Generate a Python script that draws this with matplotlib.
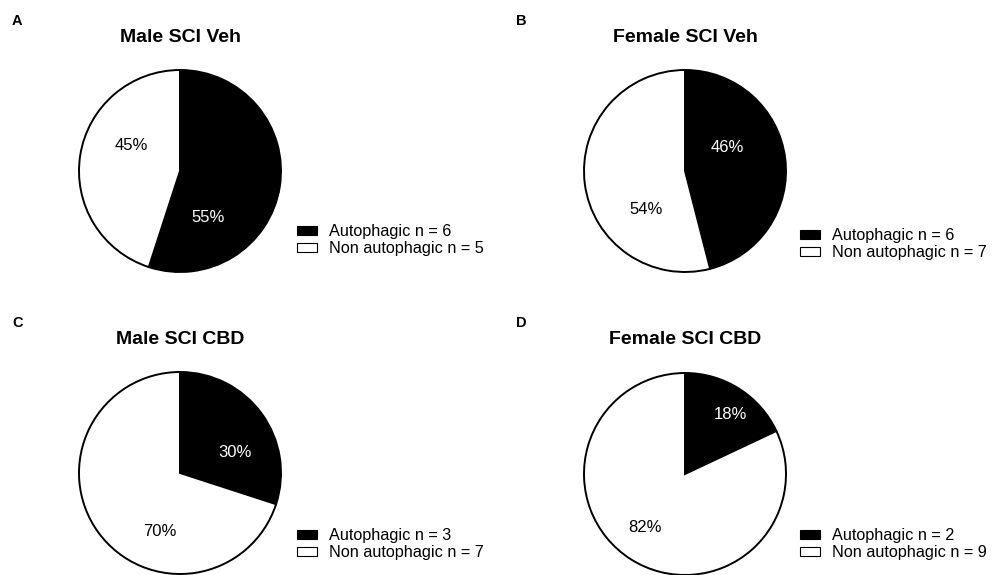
import matplotlib.pyplot as plt
from matplotlib.patches import Patch

plt.rcParams['font.family'] = ['Liberation Sans', 'DejaVu Sans']

# Anteile in Prozent und Gruppengrößen
titles = ['Male SCI Veh', 'Female SCI Veh', 'Male SCI CBD', 'Female SCI CBD']
letters = ['A', 'B', 'C', 'D']
autophagic_pct = [55, 46, 30, 18]
non_autophagic_pct = [45, 54, 70, 82]
autophagic_n = [6, 6, 3, 2]
non_autophagic_n = [5, 7, 7, 9]

W, H = 993, 575
R = 101
# Layout in Pixeln: Kreismitte, Legende, Position der Prozentwerte (in Radien)
centers = [(180, 171), (685, 171), (180, 473), (685, 474)]
legend_pos = [(297, 224), (800, 228), (297, 528), (800, 528)]
pct_offsets = [
    [(0.28, -0.46), (-0.48, 0.25)],
    [(0.42, 0.23), (-0.39, -0.38)],
    [(0.54, 0.20), (-0.20, -0.58)],
    [(0.45, 0.59), (-0.40, -0.53)],
]

fig = plt.figure(figsize=(W / 100, H / 100), dpi=100)

for i in range(4):
    cx, cy = centers[i]
    lim = 1.03
    half = R * lim
    ax = fig.add_axes([(cx - half) / W, (H - cy - half) / H, 2 * half / W, 2 * half / H])
    vals = [autophagic_pct[i], non_autophagic_pct[i]]
    ax.pie(vals, colors=['black', 'white'], startangle=90, counterclock=False,
           wedgeprops=dict(edgecolor='black', linewidth=1.4))
    ax.set_xlim(-lim, lim)
    ax.set_ylim(-lim, lim)
    ax.set_aspect('equal')
    ax.axis('off')

    for j, v in enumerate(vals):
        dx, dy = pct_offsets[i][j]
        ax.text(dx, dy, f'{v}%', ha='center', va='center', fontsize=12,
                color='white' if j == 0 else 'black')

    # Titel und Buchstaben
    fig.text(cx / W, 1 - 37 / H if i < 2 else 1 - 340 / H, titles[i],
             ha='center', va='center', fontsize=14, fontweight='bold')
    lx = 12 if i % 2 == 0 else 516
    ly = 21 if i < 2 else 323
    fig.text(lx / W, 1 - ly / H, letters[i], ha='left', va='center',
             fontsize=10.5, fontweight='bold')

    handles = [Patch(facecolor='black', edgecolor='black', linewidth=0.8),
               Patch(facecolor='white', edgecolor='black', linewidth=0.8)]
    labels = [f'Autophagic n = {autophagic_n[i]}',
              f'Non autophagic n = {non_autophagic_n[i]}']
    px, py = legend_pos[i]
    fig.legend(handles, labels, loc='upper left',
               bbox_to_anchor=(px / W, 1 - py / H), frameon=False,
               fontsize=11.7, handlelength=1.2, handleheight=0.45,
               handletextpad=0.75, labelspacing=0.12, borderpad=0,
               borderaxespad=0)

fig.savefig('out.png', dpi=100)
